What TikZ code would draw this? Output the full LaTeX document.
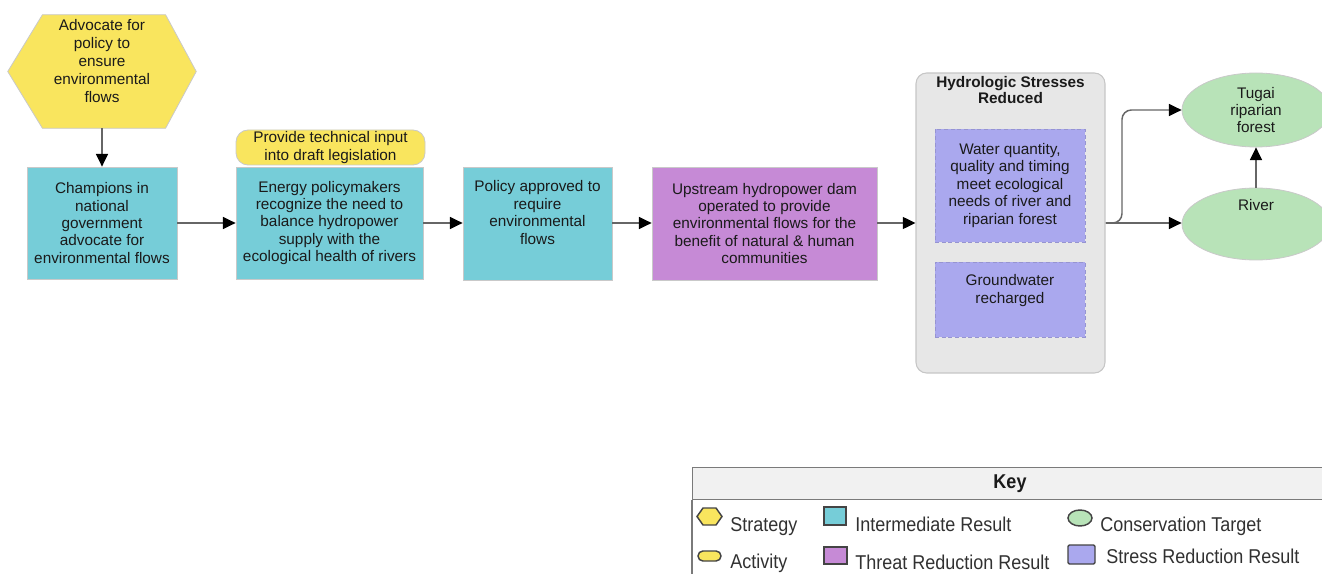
\documentclass[tikz,border=0pt]{standalone}
\usepackage{fontspec}
\setmainfont{Liberation Sans}
\newfontfamily\keyfont{Liberation Sans}[FakeStretch=0.9]
\usetikzlibrary{arrows.meta,shapes.geometric}

\definecolor{stratyellow}{HTML}{F9E55E}
\definecolor{irteal}{HTML}{76CDD8}
\definecolor{trpurple}{HTML}{C68AD6}
\definecolor{srlavender}{HTML}{AAA8EE}
\definecolor{ctgreen}{HTML}{B8E3B8}
\definecolor{groupgray}{HTML}{E7E7E7}
\definecolor{groupline}{HTML}{C6C6C6}
\definecolor{boxline}{HTML}{C9C9C9}
\definecolor{ink}{HTML}{1A1A1A}
\definecolor{wire}{HTML}{666666}
\definecolor{keyhead}{HTML}{F1F1F1}
\definecolor{keyline}{HTML}{7A7A7A}
\definecolor{iconline}{HTML}{444444}

\begin{document}
\begin{tikzpicture}[x=0.75pt,y=-0.75pt,
  txt/.style={align=center, inner sep=0pt, text=ink,
    font=\fontsize{11.5}{13.1}\selectfont},
  resultbox/.style={txt, draw=boxline, line width=0.6pt, rectangle},
  irbox/.style={resultbox, fill=irteal},
  trbox/.style={resultbox, fill=trpurple},
  srbox/.style={txt, fill=srlavender, draw=srlavender!88!black,
    dash pattern=on 3pt off 2pt, line width=0.6pt},
  target/.style={txt, ellipse, fill=ctgreen, draw=boxline, line width=0.6pt},
  flow/.style={draw=wire, line width=1.1pt,
    -{Triangle[length=9.5pt,width=9pt,color=black]}},
  keytext/.style={inner sep=0pt, anchor=base west, text=ink!90,
    font=\keyfont\fontsize{15}{18}\selectfont},
  keyicon/.style={draw=iconline, line width=1.1pt}
]
\useasboundingbox (0,0) rectangle (1322,574);

% ---------- strategy and activity ----------
\node[inner sep=0pt, minimum width=141pt, minimum height=84.75pt] (strat) at (102,71.5) {};
\filldraw[fill=stratyellow, draw=boxline, line width=0.6pt]
  (strat.west) -- ([xshift=26pt]strat.north west) -- ([xshift=-23pt]strat.north east)
  -- (strat.east) -- ([xshift=-23pt]strat.south east) -- ([xshift=26pt]strat.south west) -- cycle;
\node[txt, anchor=north, font=\fontsize{11.5}{13.5}\selectfont] (strattext)
  at ([yshift=-3pt]strat.north) {Advocate for\\policy to\\ensure\\environmental\\flows};

\node[txt, fill=stratyellow, draw=boxline, line width=0.6pt, rounded corners=9pt,
  minimum width=141.75pt, minimum height=26.25pt] (act) at (330.5,147.5)
  {Provide technical input\\into draft legislation};

% ---------- results chain ----------
\node[irbox, minimum width=112.5pt, minimum height=84pt] (champ) at (102,223)
  {Champions in\\national\\government\\advocate for\\environmental flows};
\node[irbox, minimum width=140.25pt, minimum height=84pt] (energy) at (329.5,223)
  {Energy policymakers\\recognize the need to\\balance hydropower\\supply with the\\ecological health of rivers};
\node[irbox, minimum width=111.75pt, minimum height=84.75pt] (policy) at (537.5,223.5) {};
\node[txt, anchor=north] (policytext) at ([yshift=-10.5pt]policy.north)
  {Policy approved to\\require\\environmental\\flows};
\node[trbox, minimum width=168.75pt, minimum height=84.75pt] (dam) at (764.5,223.5)
  {Upstream hydropower dam\\operated to provide\\environmental flows for the\\benefit of natural \& human\\communities};

% ---------- stress group ----------
\node[fill=groupgray, draw=groupline, line width=0.8pt, rounded corners=8pt,
  minimum width=141.75pt, minimum height=225pt] (hydro) at (1010.5,223) {};
\node[txt, anchor=north, font=\bfseries\fontsize{11.5}{12}\selectfont] (hydrotitle)
  at ([yshift=-2.5pt]hydro.north) {Hydrologic Stresses\\Reduced};
\node[srbox, minimum width=112.5pt, minimum height=84.75pt] (water) at (1010,185.5)
  {Water quantity,\\quality and timing\\meet ecological\\needs of river and\\riparian forest};
\node[srbox, minimum width=112.5pt, minimum height=56.25pt] (ground) at (1010,299.5) {};
\node[txt, anchor=north] (groundtext) at ([yshift=-9.5pt]ground.north)
  {Groundwater\\recharged};

% ---------- conservation targets ----------
\node[target, minimum width=111pt, minimum height=55.5pt] (tugai) at (1256,110)
  {Tugai\\riparian\\forest};
\node[target, minimum width=111pt, minimum height=54pt] (river) at (1256,224) {};
\node[txt, anchor=north] (rivertext) at ([yshift=-8.5pt]river.north) {River};

% ---------- connectors ----------
\draw[flow] (strat.south) -- (champ.north);
\draw[flow] (champ.east) -- (energy.west);
\draw[flow] (energy.east) -- (energy.east -| policy.west);
\draw[flow] (policy.east |- energy.east) -- (energy.east -| dam.west);
\draw[flow] (dam.east |- energy.east) -- (energy.east -| hydro.west);
\draw[flow] (hydro.east) -- (hydro.east -| river.west);
\coordinate (split) at (1122,223);
\draw[flow, rounded corners=7pt] (hydro.east) -- (split) -- (split |- tugai.west) -- (tugai.west);
\draw[flow] (river.north) -- (tugai.south);

% ---------- key ----------
\node[draw=keyline, fill=keyhead, line width=0.9pt, anchor=north west, inner sep=0pt,
  minimum width=478.5pt, minimum height=24pt] (keyhead) at (692,467) {};
\draw[keyline, line width=0.9pt] (keyhead.south west) -- ++(0,110) -- ++(700,0) |- (keyhead.south east);
\node[inner sep=0pt, text=ink, font=\keyfont\bfseries\fontsize{15}{18}\selectfont] (keytitle)
  at (1010,484) {Key};

\filldraw[keyicon, fill=stratyellow] (697,516.5) -- (703,508) -- (716,508) -- (722,516.5)
  -- (716,525) -- (703,525) -- cycle;
\node[keytext] (kstrat) at (730,531) {Strategy};
\node[keyicon, fill=stratyellow, rounded corners=3.7pt, inner sep=0pt,
  minimum width=17.25pt, minimum height=7.5pt] (kacticon) at (709.5,556) {};
\node[keytext] (kact) at (730,568) {Activity};

\node[keyicon, fill=irteal, inner sep=0pt, minimum width=16.5pt, minimum height=13.5pt]
  (kiricon) at (835,516) {};
\node[keytext] (kir) at (855,531) {Intermediate Result};
\node[keyicon, fill=trpurple, inner sep=0pt, minimum width=17.25pt, minimum height=12.75pt]
  (ktricon) at (835.5,555.5) {};
\node[keytext] (ktr) at (855,569) {Threat Reduction Result};

\node[keyicon, fill=ctgreen, ellipse, inner sep=0pt, minimum width=18pt, minimum height=12pt]
  (kcticon) at (1080,518) {};
\node[keytext] (kct) at (1100,531) {Conservation Target};
\node[keyicon, fill=srlavender, inner sep=0pt, rounded corners=1pt,
  minimum width=20.25pt, minimum height=14.25pt] (ksricon) at (1081.5,554.5) {};
\node[keytext] (ksr) at (1106,563) {Stress Reduction Result};
\end{tikzpicture}
\end{document}
